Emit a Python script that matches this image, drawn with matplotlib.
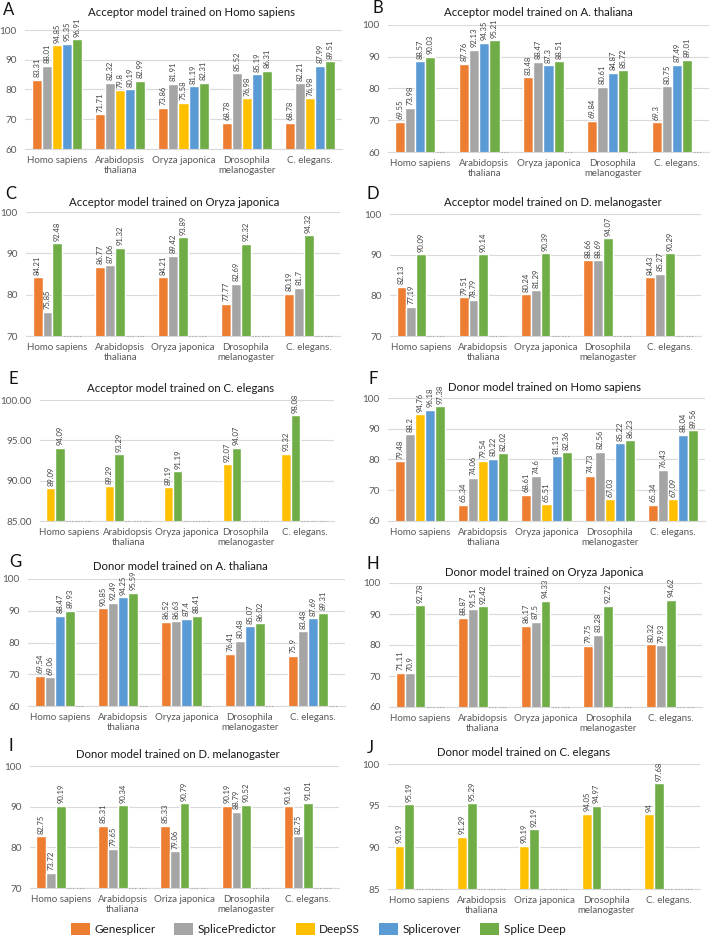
import matplotlib
matplotlib.use("Agg")
import matplotlib.pyplot as plt
from matplotlib.patches import Patch
from matplotlib.ticker import FormatStrFormatter
import numpy as np

plt.rcParams['font.family'] = ['Lato', 'DejaVu Sans']

W, H = 710, 938

# ---------------- data ----------------
categories = ["Homo sapiens", "Arabidopsis\nthaliana", "Oryza japonica",
              "Drosophila\nmelanogaster", "C. elegans."]
categories_oriza = ["Homo sapiens", "Arabidopsis\nthaliana", "Oriza japonica",
                    "Drosophila\nmelanogaster", "C. elegans."]
series_names = ["Genesplicer", "SplicePredictor", "DeepSS", "Splicerover", "Splice Deep"]
series_colors = ["#ED7D31", "#A5A5A5", "#FFC000", "#5B9BD5", "#70AD47"]

# A: Acceptor, Homo sapiens
a_genesplicer = [83.31, 71.71, 73.86, 68.78, 68.78]
a_splicepredictor = [88.01, 82.32, 81.91, 85.52, 82.21]
a_deepss = [94.85, 79.8, 75.58, 76.98, 76.98]
a_splicerover = [95.35, 80.19, 81.19, 85.19, 87.99]
a_splicedeep = [96.91, 82.99, 82.31, 86.31, 89.51]
# B: Acceptor, A. thaliana
b_genesplicer = [69.55, 87.76, 83.48, 69.84, 69.3]
b_splicepredictor = [73.98, 92.13, 88.47, 80.61, 80.75]
b_splicerover = [88.57, 94.35, 87.3, 84.87, 87.49]
b_splicedeep = [90.03, 95.21, 88.51, 85.72, 89.01]
# C: Acceptor, Oryza japonica
c_genesplicer = [84.21, 86.77, 84.21, 77.77, 80.19]
c_splicepredictor = [75.85, 87.06, 89.42, 82.69, 81.7]
c_splicedeep = [92.48, 91.32, 93.89, 92.32, 94.32]
# D: Acceptor, D. melanogaster
d_genesplicer = [82.13, 79.51, 80.24, 88.66, 84.43]
d_splicepredictor = [77.19, 78.79, 81.29, 88.69, 85.27]
d_splicedeep = [90.09, 90.14, 90.39, 94.07, 90.29]
# E: Acceptor, C. elegans
e_deepss = [89.09, 89.29, 89.19, 92.07, 93.32]
e_splicedeep = [94.09, 93.29, 91.19, 94.07, 98.08]
# F: Donor, Homo sapiens
f_genesplicer = [79.48, 65.34, 68.61, 74.73, 65.34]
f_splicepredictor = [88.2, 74.06, 74.6, 82.56, 76.43]
f_deepss = [94.76, 79.54, 65.51, 67.03, 67.09]
f_splicerover = [96.18, 80.22, 81.13, 85.22, 88.04]
f_splicedeep = [97.38, 82.02, 82.36, 86.23, 89.56]
# G: Donor, A. thaliana
g_genesplicer = [69.54, 90.85, 86.52, 76.41, 75.9]
g_splicepredictor = [69.06, 92.49, 86.63, 80.48, 83.48]
g_splicerover = [88.47, 94.25, 87.4, 85.07, 87.69]
g_splicedeep = [89.93, 95.59, 88.41, 86.02, 89.31]
# H: Donor, Oryza japonica
h_genesplicer = [71.11, 88.87, 86.17, 79.75, 80.32]
h_splicepredictor = [70.9, 91.51, 87.5, 83.28, 79.93]
h_splicedeep = [92.78, 92.42, 94.33, 92.72, 94.62]
# I: Donor, D. melanogaster
i_genesplicer = [82.75, 85.31, 85.33, 90.19, 90.16]
i_splicepredictor = [73.72, 79.65, 79.06, 88.79, 82.75]
i_splicedeep = [90.19, 90.34, 90.79, 90.52, 91.01]
# J: Donor, C. elegans
j_deepss = [90.19, 91.29, 90.19, 94.05, 94]
j_splicedeep = [95.19, 95.29, 92.19, 94.97, 97.68]

titles = {
    "A": "Acceptor model trained on Homo sapiens",
    "B": "Acceptor model trained on A. thaliana",
    "C": "Acceptor model trained on Oryza japonica",
    "D": "Acceptor model trained on D. melanogaster",
    "E": "Acceptor model trained on C. elegans",
    "F": "Donor model trained on Homo sapiens",
    "G": "Donor model trained on A. thaliana",
    "H": "Donor model trained on Oryza Japonica",
    "I": "Donor model trained on D. melanogaster",
    "J": "Donor model trained on C. elegans",
}

# --------------- layout (pixels) ---------------
panels = [
    dict(letter="A", series=[(0, a_genesplicer), (1, a_splicepredictor), (2, a_deepss), (3, a_splicerover), (4, a_splicedeep)],
         ylim=(60, 100), step=10, fmt="%d", cats=categories, rect=(25, 342, 30, 149), tpos=(192, 13), lpos=(3, 10)),
    dict(letter="B", series=[(0, b_genesplicer), (1, b_splicepredictor), (3, b_splicerover), (4, b_splicedeep)],
         ylim=(60, 100), step=10, fmt="%d", cats=categories, rect=(388, 709, 25, 152), tpos=(538, 12), lpos=(372, 8)),
    dict(letter="C", series=[(0, c_genesplicer), (1, c_splicepredictor), (4, c_splicedeep)],
         ylim=(70, 100), step=10, fmt="%d", cats=categories, rect=(26, 340, 212, 336), tpos=(174, 202), lpos=(5, 194)),
    dict(letter="D", series=[(0, d_genesplicer), (1, d_splicepredictor), (4, d_splicedeep)],
         ylim=(70, 100), step=10, fmt="%d", cats=categories, rect=(390, 701, 214, 336), tpos=(553, 202), lpos=(367, 194)),
    dict(letter="E", series=[(2, e_deepss), (4, e_splicedeep)],
         ylim=(85, 100), step=5, fmt="%.2f", cats=categories, rect=(40, 334, 400, 521), tpos=(181, 388), lpos=(9, 379)),
    dict(letter="F", series=[(0, f_genesplicer), (1, f_splicepredictor), (2, f_deepss), (3, f_splicerover), (4, f_splicedeep)],
         ylim=(60, 100), step=10, fmt="%d", cats=categories, rect=(388, 705, 398, 521), tpos=(545, 387), lpos=(368, 379)),
    dict(letter="G", series=[(0, g_genesplicer), (1, g_splicepredictor), (3, g_splicerover), (4, g_splicedeep)],
         ylim=(60, 100), step=10, fmt="%d", cats=categories, rect=(28, 345, 579, 706), tpos=(180, 566), lpos=(9, 562)),
    dict(letter="H", series=[(0, h_genesplicer), (1, h_splicepredictor), (4, h_splicedeep)],
         ylim=(60, 100), step=10, fmt="%d", cats=categories, rect=(389, 702, 583, 707), tpos=(544, 572), lpos=(367, 564)),
    dict(letter="I", series=[(0, i_genesplicer), (1, i_splicepredictor), (4, i_splicedeep)],
         ylim=(70, 100), step=10, fmt="%d", cats=categories_oriza, rect=(30, 339, 766, 888), tpos=(178, 754), lpos=(9, 746)),
    dict(letter="J", series=[(2, j_deepss), (4, j_splicedeep)],
         ylim=(85, 100), step=5, fmt="%d", cats=categories_oriza, rect=(388, 700, 764, 889), tpos=(524, 752), lpos=(367, 748)),
]

fig = plt.figure(figsize=(W / 100, H / 100), dpi=100)
fig.patch.set_facecolor("white")

slot = 0.158
x = np.arange(len(categories))
offsets = (np.arange(5) - 2) * slot

for p in panels:
    l, r, t, b = p["rect"]
    ax = fig.add_axes([l / W, 1 - b / H, (r - l) / W, (b - t) / H])
    ymin, ymax = p["ylim"]
    span = ymax - ymin
    for k, (si, vals) in enumerate(p["series"]):
        xs = x + offsets[k]
        ax.bar(xs, vals, width=slot, color=series_colors[si], edgecolor="white",
               linewidth=1.0, zorder=2)
        for xi, v in zip(xs, vals):
            ax.text(xi, v + span * 0.02, f"{v:g}", rotation=90, ha="center", va="bottom",
                    fontsize=5.5, color="#404040", clip_on=False, zorder=3)
    # empty slots (series missing from this panel)
    for k in range(len(p["series"]), 5):
        for xc in x + offsets[k]:
            ax.plot([xc - slot * 0.35, xc + slot * 0.35], [ymin, ymin], linestyle=(0, (1, 1.5)),
                    color="#A6A6A6", linewidth=0.8, clip_on=False, zorder=3)
    ax.set_xlim(-0.5, len(categories) - 0.5)
    ax.set_ylim(ymin, ymax)
    ax.set_yticks(np.arange(ymin, ymax + 0.01, p["step"]))
    ax.yaxis.set_major_formatter(FormatStrFormatter(p["fmt"]))
    ax.set_xticks(x)
    ax.set_xticklabels(p["cats"], fontsize=7, color="#595959", linespacing=1.15)
    ax.tick_params(axis="y", length=0, labelsize=7.2, labelcolor="#595959", pad=6)
    ax.tick_params(axis="x", length=0, pad=5)
    ax.grid(axis="y", color="#D9D9D9", linewidth=0.8, zorder=0)
    ax.set_axisbelow(True)
    for s in ["top", "right", "left"]:
        ax.spines[s].set_visible(False)
    ax.spines["bottom"].set_color("#D9D9D9")
    ax.spines["bottom"].set_linewidth(0.8)
    ax.set_facecolor("white")
    tx, ty = p["tpos"]
    fig.text(tx / W, 1 - ty / H, titles[p["letter"]], ha="center", va="center",
             fontsize=8.2, color="#1a1a1a")
    lx, ly = p["lpos"]
    fig.text(lx / W, 1 - ly / H, p["letter"], ha="left", va="center",
             fontsize=12, color="#111111")

handles = [Patch(facecolor=c, edgecolor="none", label=n) for n, c in zip(series_names, series_colors)]
fig.legend(handles=handles, loc="center", bbox_to_anchor=(318 / W, 1 - 929 / H), ncol=5,
           frameon=False, fontsize=8.5, handlelength=1.6, handleheight=1.2,
           columnspacing=1.6, handletextpad=0.4, labelcolor="#1a1a1a")

fig.savefig("out.png", dpi=100, facecolor="white")
